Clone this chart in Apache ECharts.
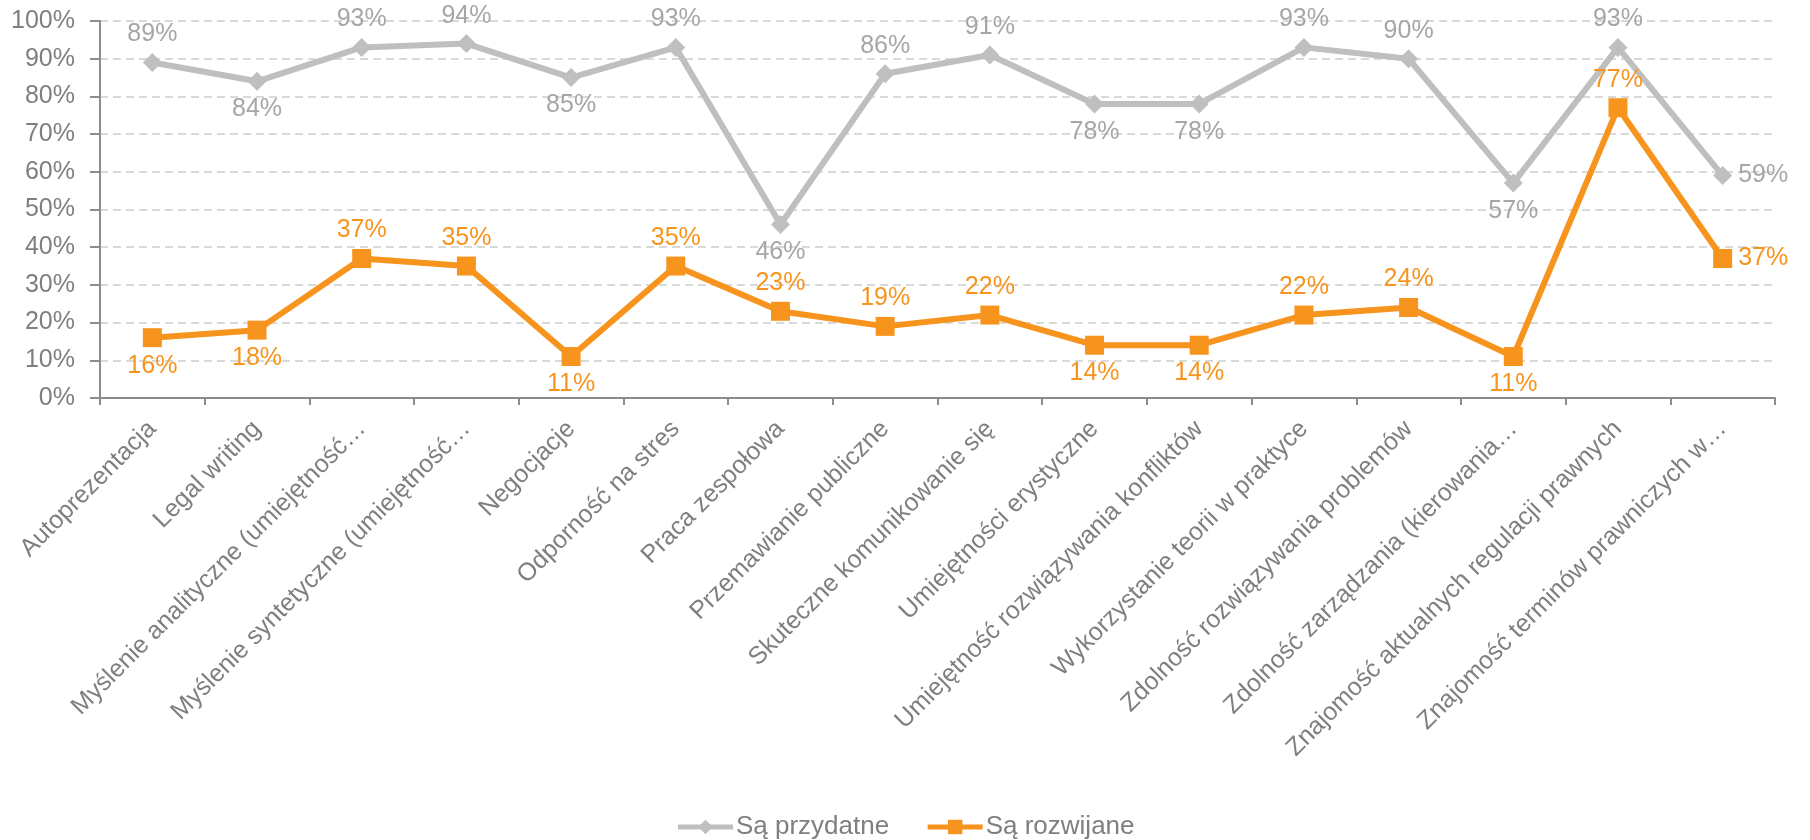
<!DOCTYPE html>
<html>
<head>
<meta charset="utf-8">
<script src="https://cdn.jsdelivr.net/npm/echarts@6/dist/echarts.min.js"></script>
<style>
  html, body { margin: 0; padding: 0; background: #fff; }
  #main { width: 1810px; height: 840px; }
</style>
</head>
<body>
<div id="main"></div>
<script>
// kategorie (skrócone tak jak na wykresie)
const categories = [
  'Autoprezentacja',
  'Legal writing',
  'Myślenie analityczne (umiejętność…',
  'Myślenie syntetyczne (umiejętność…',
  'Negocjacje',
  'Odporność na stres',
  'Praca zespołowa',
  'Przemawianie publiczne',
  'Skuteczne komunikowanie się',
  'Umiejętności erystyczne',
  'Umiejętność rozwiązywania konfliktów',
  'Wykorzystanie teorii w praktyce',
  'Zdolność rozwiązywania problemów',
  'Zdolność zarządzania (kierowania…',
  'Znajomość aktualnych regulacji prawnych',
  'Znajomość terminów prawniczych w…'
];

const seriesNames = ['Są przydatne', 'Są rozwijane'];

// wartości w %
const przydatne = [89, 84, 93, 94, 85, 93, 46, 86, 91, 78, 78, 93, 90, 57, 93, 59];
const rozwijane = [16, 18, 37, 35, 11, 35, 23, 19, 22, 14, 14, 22, 24, 11, 77, 37];

// gdzie stoją etykiety danych
const przydatnePos = ['top', 'bottom', 'top', 'top', 'bottom', 'top', 'bottom', 'top',
  'top', 'bottom', 'bottom', 'top', 'top', 'bottom', 'top', 'right'];
const rozwijanePos = ['bottom', 'bottom', 'top', 'top', 'bottom', 'top', 'top', 'top',
  'top', 'bottom', 'bottom', 'top', 'top', 'bottom', 'top', 'right'];

const yTicks = { min: 0, max: 100, interval: 10 };

const FONT = '"Liberation Sans", Arial, sans-serif';
const GRAY = '#BFBFBF';
const ORANGE = '#F7941E';
const AXIS = '#8C8C8C';

function withPos(values, pos) {
  return values.map((v, i) => ({ value: v, label: { position: pos[i] } }));
}

const chart = echarts.init(document.getElementById('main'), null, { renderer: 'canvas' });

const option = {
  animation: false,
  textStyle: { fontFamily: FONT },
  grid: { left: 100, right: 35, top: 21, bottom: 442, containLabel: false },
  legend: {
    top: 809,
    left: 'center',
    itemWidth: 55,
    itemHeight: 18,
    itemGap: 36,
    lineStyle: { width: 5 },
    textStyle: { color: '#7F7F7F', fontSize: 26, fontFamily: FONT, padding: [0, 0, 0, -2] },
    data: seriesNames
  },
  xAxis: {
    type: 'category',
    data: categories,
    boundaryGap: true,
    axisLine: { lineStyle: { color: AXIS, width: 2 } },
    axisTick: { show: true, length: 7, lineStyle: { color: AXIS, width: 2 } },
    axisLabel: {
      interval: 0,
      rotate: 45,
      margin: 27,
      color: '#7F7F7F',
      fontSize: 25,
      fontFamily: FONT
    }
  },
  yAxis: {
    type: 'value',
    min: yTicks.min,
    max: yTicks.max,
    interval: yTicks.interval,
    axisLine: { show: true, lineStyle: { color: AXIS, width: 2 } },
    axisTick: { show: true, length: 10, lineStyle: { color: AXIS, width: 2 } },
    axisLabel: {
      formatter: '{value}%',
      color: '#7F7F7F',
      fontSize: 25,
      margin: 25,
      fontFamily: FONT
    },
    splitLine: {
      lineStyle: { color: '#D9D9D9', width: 2, type: [8, 5] }
    }
  },
  series: [
    {
      name: seriesNames[0],
      type: 'line',
      data: withPos(przydatne, przydatnePos),
      symbol: 'diamond',
      symbolSize: 19,
      color: GRAY,
      lineStyle: { color: GRAY, width: 6 },
      itemStyle: { color: GRAY },
      label: {
        show: true,
        formatter: '{c}%',
        color: '#A6A6A6',
        fontSize: 25,
        distance: 6,
        fontFamily: FONT
      },
      z: 2
    },
    {
      name: seriesNames[1],
      type: 'line',
      data: withPos(rozwijane, rozwijanePos),
      symbol: 'rect',
      symbolSize: 19,
      color: ORANGE,
      lineStyle: { color: ORANGE, width: 6 },
      itemStyle: { color: ORANGE },
      label: {
        show: true,
        formatter: '{c}%',
        color: ORANGE,
        fontSize: 25,
        distance: 6,
        fontFamily: FONT
      },
      z: 3
    }
  ]
};

chart.setOption(option);
</script>
</body>
</html>
